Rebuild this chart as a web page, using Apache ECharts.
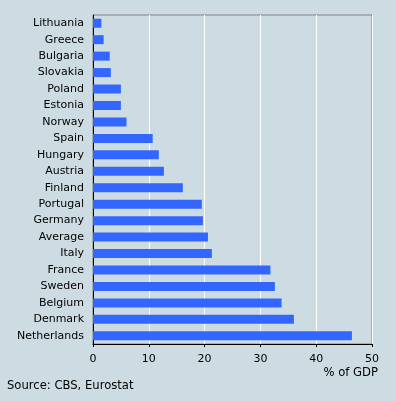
<!DOCTYPE html>
<html><head><meta charset="utf-8">
<script src="https://cdn.jsdelivr.net/npm/echarts@6/dist/echarts.min.js"></script>
<style>html,body{margin:0;padding:0;background:#cddce2;}#c{width:396px;height:401px;}</style>
</head><body><div id="c"></div>
<script>
const categories = ["Lithuania","Greece","Bulgaria","Slovakia","Poland","Estonia","Norway","Spain","Hungary","Austria","Finland","Portugal","Germany","Average","Italy","France","Sweden","Belgium","Denmark","Netherlands"];
const values = [1.5,1.9,3.0,3.2,5.0,5.0,6.0,10.7,11.8,12.7,16.1,19.5,19.7,20.6,21.3,31.8,32.6,33.8,36.0,46.4];
const xTicks = [0,10,20,30,40,50];
const font = "DejaVu Sans, Verdana, sans-serif";
const chart = echarts.init(document.getElementById('c'), null, {renderer:'canvas'});
chart.setOption({
  backgroundColor:'#cddce2',
  animation:false,
  grid:{left:93,right:24,top:15,bottom:57,show:true,borderColor:'#808080',borderWidth:1,backgroundColor:'transparent'},
  xAxis:{type:'value',min:xTicks[0],max:xTicks[xTicks.length-1],interval:10,
    axisLine:{show:true,lineStyle:{color:'#000',width:1}},
    axisTick:{show:true,length:3,lineStyle:{color:'#000'}},
    axisLabel:{color:'#000',fontFamily:font,fontSize:11,margin:10},
    splitLine:{show:true,lineStyle:{color:'#fff',width:1}}},
  yAxis:{type:'category',data:categories,inverse:true,
    axisLine:{show:true,lineStyle:{color:'#000',width:1}},
    axisTick:{show:false},
    axisLabel:{color:'#000',fontFamily:font,fontSize:11,margin:9}},
  series:[{type:'bar',data:values,barWidth:9,itemStyle:{color:'#3366ff'}}],
  graphic:[
    {type:'text',right:18,top:367,style:{text:'% of GDP',fill:'#000',font:'11.6px '+font}},
    {type:'text',left:7,top:380,style:{text:'Source: CBS, Eurostat',fill:'#000',font:'11.6px '+font}}
  ]
});
</script></body></html>
